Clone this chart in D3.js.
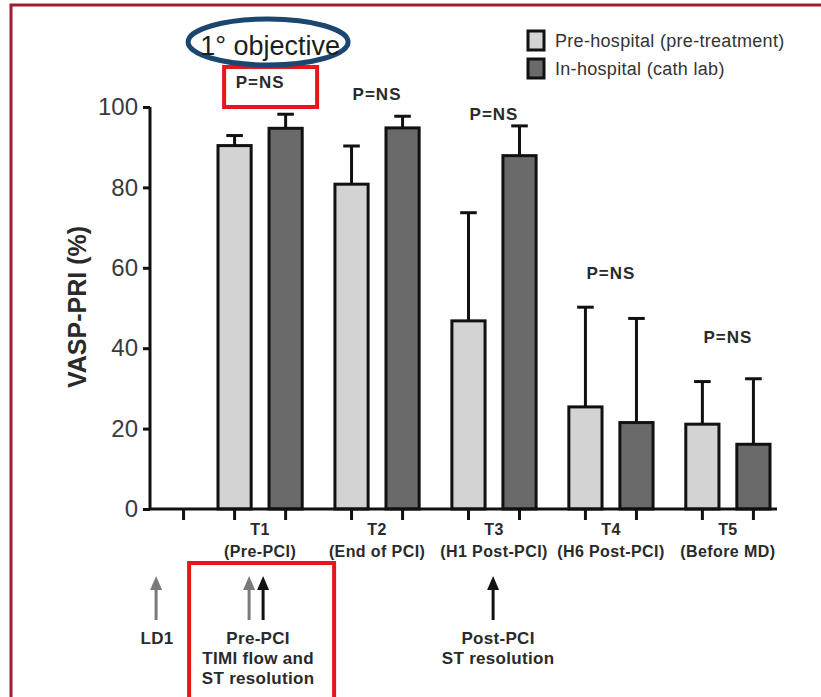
<!DOCTYPE html>
<html>
<head>
<meta charset="utf-8">
<script src="https://cdn.jsdelivr.net/npm/d3@7"></script>
<style>
  body { margin: 0; background: #fff; }
  svg { display: block; font-family: "Liberation Sans", Arial, sans-serif; }
</style>
</head>
<body>
<div id="chart"></div>
<script>
// data
const times = ["T1", "T2", "T3", "T4", "T5"];
const timeNotes = ["(Pre-PCI)", "(End of PCI)", "(H1 Post-PCI)", "(H6 Post-PCI)", "(Before MD)"];
const series = ["Pre-hospital (pre-treatment)", "In-hospital (cath lab)"];
const preValues = [90.4, 80.8, 46.8, 25.4, 21.1];
const preErr = [2.5, 9.5, 26.9, 24.8, 10.6];
const inValues = [94.7, 94.8, 87.9, 21.5, 16.1];
const inErr = [3.5, 2.9, 7.4, 25.9, 16.3];
const pLabels = ["P=NS", "P=NS", "P=NS", "P=NS", "P=NS"];
const pLevels = [106.2, 103.2, 98.3, 58.7, 42.8];
const yTicks = [0, 20, 40, 60, 80, 100];

const W = 821, H = 697;
const colors = ["#d3d3d3", "#6a6a6a"];

let svg = d3.select("#chart").append("svg")
    .attr("width", W)
    .attr("height", H);

// outer frame
svg.append("path")
    .attr("d", `M11,${H} L11,5 L${W},5`)
    .attr("fill", "none")
    .attr("stroke", "#a01c32")
    .attr("stroke-width", 3);

let y = d3.scaleLinear().domain([0, 100]).range([509, 107]);
let x = d3.scaleBand().domain(times).range([218, 770]).paddingInner(0.28);
let xs = d3.scaleBand().domain([0, 1]).range([0, x.bandwidth()]).paddingInner(0.35);
let bw = xs.bandwidth();

let rows = [];
times.forEach((t, i) => {
    rows.push({t: t, s: 0, v: preValues[i], e: preErr[i]});
    rows.push({t: t, s: 1, v: inValues[i], e: inErr[i]});
});
let cx = d => x(d.t) + xs(d.s) + bw / 2;

// error bars (drawn first so the bar outline sits on top)
let eb = svg.append("g").attr("stroke", "#111").attr("stroke-width", 3);
eb.selectAll("line.v").data(rows).join("line")
    .attr("class", "v")
    .attr("x1", cx).attr("x2", cx)
    .attr("y1", d => y(d.v)).attr("y2", d => y(d.v + d.e));
eb.selectAll("line.c").data(rows).join("line")
    .attr("class", "c")
    .attr("x1", d => cx(d) - bw / 4).attr("x2", d => cx(d) + bw / 4)
    .attr("y1", d => y(d.v + d.e)).attr("y2", d => y(d.v + d.e));

// bars
svg.append("g").selectAll("rect").data(rows).join("rect")
    .attr("x", d => x(d.t) + xs(d.s))
    .attr("y", d => y(d.v))
    .attr("width", bw)
    .attr("height", d => y(0) - y(d.v))
    .attr("fill", d => colors[d.s])
    .attr("stroke", "#111")
    .attr("stroke-width", 3);

// y axis
let yAxis = svg.append("g")
    .attr("transform", "translate(150,0)")
    .call(d3.axisLeft(y).tickValues(yTicks).tickSize(7).tickPadding(5));
yAxis.select(".domain").attr("stroke", "#111").attr("stroke-width", 3)
    .attr("d", `M0,${y(100)}V${y(0)}`);
yAxis.selectAll(".tick line").attr("stroke", "#111").attr("stroke-width", 3);
yAxis.selectAll(".tick text")
    .attr("font-size", 24)
    .attr("fill", "#3a3a3a")
    .attr("font-family", "Liberation Sans, Arial, sans-serif");

// x axis line and ticks at every bar (plus the empty LD1 slot)
let tickXs = [x(times[0]) + xs(0) + bw / 2 - xs.step()].concat(rows.map(cx));
svg.append("line")
    .attr("x1", 150).attr("x2", 777)
    .attr("y1", y(0)).attr("y2", y(0))
    .attr("stroke", "#111").attr("stroke-width", 3);
svg.append("g").selectAll("line").data(tickXs).join("line")
    .attr("x1", d => d).attr("x2", d => d)
    .attr("y1", y(0)).attr("y2", y(0) + 11)
    .attr("stroke", "#111").attr("stroke-width", 3);

// category labels
let cat = svg.append("g")
    .attr("font-weight", "bold")
    .attr("font-size", 16)
    .attr("fill", "#2a2a2a")
    .attr("text-anchor", "middle")
    .attr("letter-spacing", 0.4);
cat.selectAll("text.t").data(times).join("text")
    .attr("class", "t")
    .attr("x", d => x(d) + x.bandwidth() / 2)
    .attr("y", 535)
    .text(d => d);
cat.selectAll("text.n").data(timeNotes).join("text")
    .attr("class", "n")
    .attr("x", (d, i) => x(times[i]) + x.bandwidth() / 2)
    .attr("y", 557)
    .text(d => d);

// y label
svg.append("text")
    .attr("transform", "translate(86,307) rotate(-90)")
    .attr("text-anchor", "middle")
    .attr("font-weight", "bold")
    .attr("font-size", 25)
    .attr("fill", "#2a2a2a")
    .text("VASP-PRI (%)");

// P=NS labels
svg.append("g").selectAll("text").data(pLabels).join("text")
    .attr("x", (d, i) => x(times[i]) + x.bandwidth() / 2)
    .attr("y", (d, i) => y(pLevels[i]) + 6)
    .attr("text-anchor", "middle")
    .attr("font-weight", "bold")
    .attr("font-size", 17)
    .attr("letter-spacing", 1)
    .attr("fill", "#2a2a2a")
    .text(d => d);

// primary objective highlight on T1
let t1c = x(times[0]) + x.bandwidth() / 2;
svg.append("rect")
    .attr("x", t1c - 36).attr("y", 67)
    .attr("width", 93).attr("height", 40)
    .attr("fill", "none")
    .attr("stroke", "#e8161b")
    .attr("stroke-width", 4);
svg.append("ellipse")
    .attr("cx", t1c + 8).attr("cy", 42)
    .attr("rx", 80).attr("ry", 23)
    .attr("fill", "none")
    .attr("stroke", "#1a4670")
    .attr("stroke-width", 5);
svg.append("text")
    .attr("x", t1c + 10).attr("y", 55)
    .attr("text-anchor", "middle")
    .attr("font-size", 27)
    .attr("fill", "#1d1d1d")
    .text("1° objective");

// legend
let lg = svg.append("g").attr("transform", "translate(528,31)");
let li = lg.selectAll("g").data(series).join("g")
    .attr("transform", (d, i) => `translate(0,${i * 28})`);
li.append("rect")
    .attr("width", 16).attr("height", 19)
    .attr("fill", (d, i) => colors[i])
    .attr("stroke", "#111")
    .attr("stroke-width", 3);
li.append("text")
    .attr("x", 27).attr("y", 16)
    .attr("font-size", 18)
    .attr("letter-spacing", 0.3)
    .attr("fill", "#333")
    .text(d => d);

// timeline arrows below the axis
const arrows = [
    {dx: -104, color: "#7a7a7a"},
    {dx: -11, color: "#7a7a7a"},
    {dx: 3, color: "#111"},
    {dx: 233, color: "#111"}
];
let ar = svg.append("g");
arrows.forEach(a => {
    let ax = t1c + a.dx;
    ar.append("line")
        .attr("x1", ax).attr("x2", ax)
        .attr("y1", 620).attr("y2", 588)
        .attr("stroke", a.color).attr("stroke-width", 3);
    ar.append("path")
        .attr("d", `M${ax - 6},${590} L${ax},${576} L${ax + 6},${590} Z`)
        .attr("fill", a.color);
});

const notes = [
    {dx: -103, lines: ["LD1"]},
    {dx: -2, lines: ["Pre-PCI", "TIMI flow and", "ST resolution"]},
    {dx: 238, lines: ["Post-PCI", "ST resolution"]}
];
let nt = svg.append("g")
    .attr("font-weight", "bold")
    .attr("font-size", 17)
    .attr("fill", "#2a2a2a")
    .attr("text-anchor", "middle")
    .attr("letter-spacing", 0.3);
notes.forEach(n => {
    n.lines.forEach((s, j) => {
        nt.append("text")
            .attr("x", t1c + n.dx)
            .attr("y", 644 + j * 20)
            .text(s);
    });
});

// highlight box round pre-PCI note
svg.append("rect")
    .attr("x", t1c - 71).attr("y", 563)
    .attr("width", 145).attr("height", 150)
    .attr("fill", "none")
    .attr("stroke", "#e8161b")
    .attr("stroke-width", 4);
</script>
</body>
</html>
